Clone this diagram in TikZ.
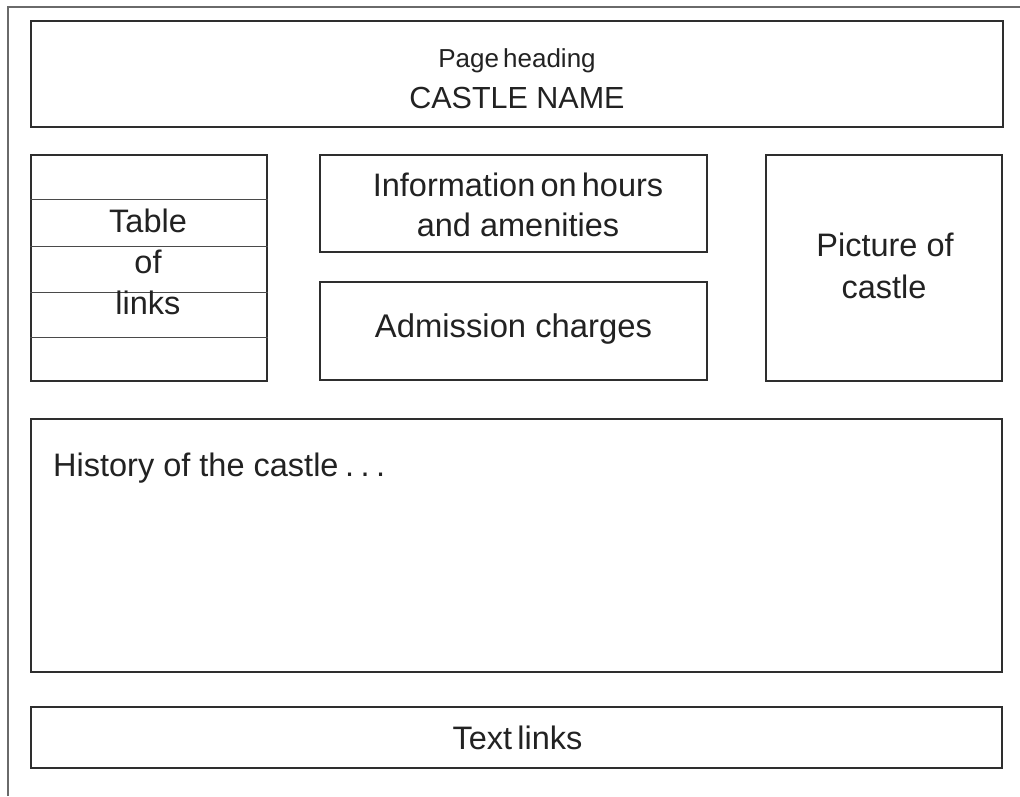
\documentclass[tikz,border=0pt]{standalone}
\usepackage{fontspec}
\setmainfont{Liberation Sans}
\definecolor{boxc}{HTML}{2E2E2E}
\definecolor{framec}{HTML}{6A6A6A}
\definecolor{rowc}{HTML}{4A4A4A}
\definecolor{txtc}{HTML}{222222}
% narrow word spaces used in some labels
\newcommand{\nsp}{\hspace{0.16em}}
\newcommand{\dsp}{\hspace{0.2em}}
\begin{document}
\begin{tikzpicture}[x=1pt,y=-1pt,
  box/.style={draw=boxc, line width=1.1pt, rectangle, inner sep=0pt, minimum width=#1},
  lbl/.style={text=txtc, inner sep=0pt, anchor=base, font=\fontsize{32.5}{32.5}\selectfont},
  small/.style={lbl, font=\fontsize{26}{26}\selectfont},
  rowline/.style={draw=rowc, line width=0.9pt},
  frame/.style={draw=framec, line width=1.4pt}]
  \useasboundingbox (0,0) rectangle (1020,796);
  \fill[white] (0,0) rectangle (1020,796);
  % page frame, running off the right and lower edges
  \draw[frame] (8,796) -- (8,7) -- (1020,7);

  % boxes
  \node[box=972pt, minimum height=106pt] (head) at (517,74) {};
  \node[box=236pt, minimum height=226pt] (tbl)  at (149,268) {};
  \node[box=387pt, minimum height=97pt]  (info) at (513.5,203.5) {};
  \node[box=387pt, minimum height=98pt]  (adm)  at (513.5,331) {};
  \node[box=236pt, minimum height=226pt] (pic)  at (884,268) {};
  \node[box=971pt, minimum height=253pt] (hist) at (516.5,545.5) {};
  \node[box=971pt, minimum height=61pt]  (tlk)  at (516.5,737.5) {};

  % rows of the link table
  \foreach \yy in {199,246,292,337}
    \draw[rowline] (tbl.west |- 0,\yy) -- (tbl.east |- 0,\yy);

  % labels
  \node[small] (headA) at (517,67.5) {Page\nsp heading};
  \node[lbl, font=\fontsize{30.5}{30.5}\selectfont] (headB) at (517,108.3) {CASTLE NAME};
  \node[lbl] (tblA) at (148,232.3) {Table};
  \node[lbl] (tblB) at (148,273) {of};
  \node[lbl] (tblC) at (148,314.3) {links};
  \node[lbl] (infoA) at (518,196) {Information\nsp on\nsp hours};
  \node[lbl] (infoB) at (518,236.5) {and amenities};
  \node[lbl, font=\fontsize{32.8}{32.8}\selectfont] (admA) at (513.5,337.7) {Admission charges};
  \node[lbl] (picA) at (885,256) {Picture of};
  \node[lbl] (picB) at (884,298) {castle};
  \node[lbl, anchor=base west] (histA) at (53,476.5) {History of the castle\dsp.\dsp.\dsp.};
  \node[lbl] (tlkA) at (517.5,749) {Text\nsp links};
\end{tikzpicture}
\end{document}
